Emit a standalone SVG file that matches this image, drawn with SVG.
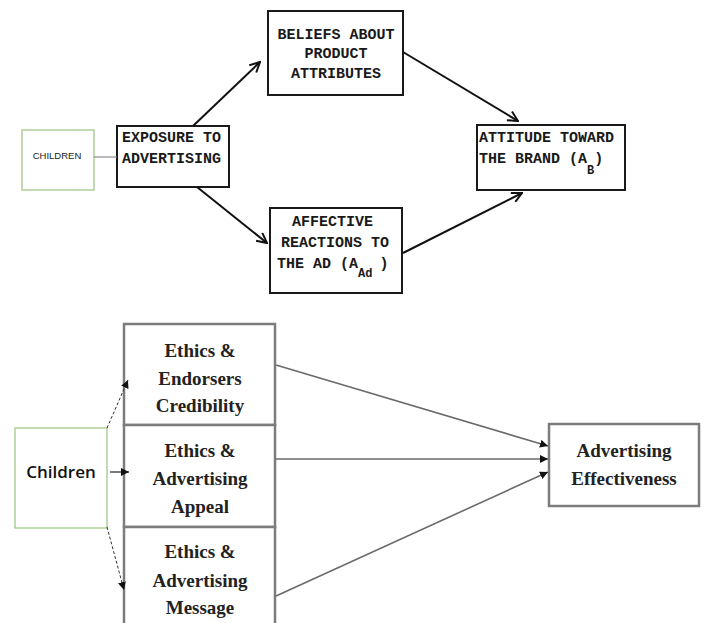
<svg xmlns="http://www.w3.org/2000/svg" width="706" height="623" viewBox="0 0 706 623">
<defs>
<style>
.tw{font-family:"Liberation Mono","Courier New",monospace;font-size:15px;font-weight:bold;fill:#1a1a1a}
.sub{font-size:12px}
.tbox{fill:#fff;stroke:#1a1a1a;stroke-width:2}
.green{fill:#fff;stroke:#9cc47c;stroke-width:1.2}
.gbox{fill:#fff;stroke:#7c7c7c;stroke-width:2.5}
.tr{font-family:"Liberation Serif","Times New Roman",serif;font-weight:bold;font-size:19px;fill:#222;text-anchor:middle}
.tlink{fill:none;stroke:#111;stroke-width:2}
.blink{fill:none;stroke:#6a6a6a;stroke-width:1.6}
.dlink{fill:none;stroke:#333;stroke-width:1;stroke-dasharray:3 2}
.solid{fill:none;stroke:#222;stroke-width:1.2}
</style>
<marker id="openV" viewBox="0 0 12 12" refX="11" refY="6" markerWidth="12" markerHeight="12" markerUnits="userSpaceOnUse" orient="auto">
<path d="M1,1 L11,6 L1,11" fill="none" stroke="#111" stroke-width="2"/>
</marker>
<marker id="tri" viewBox="0 0 10 10" refX="10" refY="5" markerWidth="8" markerHeight="8" markerUnits="userSpaceOnUse" orient="auto">
<path d="M0,0 L10,5 L0,10 z" fill="#111"/>
</marker>
</defs>
<rect width="706" height="623" fill="#fff"/>

<g id="children-top">
<rect class="green" x="22" y="130" width="72" height="60"/>
<text x="57" y="159" font-family="Liberation Sans, Arial, sans-serif" font-size="9.5" text-anchor="middle" fill="#222">CHILDREN</text>
</g>

<g id="exposure">
<rect class="tbox" x="117" y="126" width="112" height="61"/>
<text class="tw" x="122" y="142">EXPOSURE TO</text>
<text class="tw" x="122" y="163">ADVERTISING</text>
</g>

<g id="beliefs">
<rect class="tbox" x="268" y="11" width="135" height="84"/>
<text class="tw" x="336" y="39" text-anchor="middle">BELIEFS ABOUT</text>
<text class="tw" x="336" y="58" text-anchor="middle">PRODUCT</text>
<text class="tw" x="336" y="78" text-anchor="middle">ATTRIBUTES</text>
</g>

<g id="affective">
<rect class="tbox" x="270" y="208" width="132" height="85"/>
<text class="tw" x="292" y="226">AFFECTIVE</text>
<text class="tw" x="281" y="247">REACTIONS TO</text>
<text class="tw" x="277" y="268">THE AD (A<tspan class="sub" dy="9">Ad</tspan><tspan dy="-9" dx="7">)</tspan></text>
</g>

<g id="attitude">
<rect class="tbox" x="477" y="125" width="148" height="65"/>
<text class="tw" x="479" y="142">ATTITUDE TOWARD</text>
<text class="tw" x="479" y="163">THE BRAND (A<tspan class="sub" dy="11">B</tspan><tspan dy="-11">)</tspan></text>
</g>

<g id="children-bottom">
<rect class="green" x="15" y="428" width="92" height="100"/>
<text x="61" y="478" font-family="Open Sans, Liberation Sans, sans-serif" font-size="17" font-weight="600" text-anchor="middle" fill="#111">Children</text>
</g>

<g id="endorsers">
<rect class="gbox" x="124" y="324" width="151" height="101"/>
<text class="tr" x="200" y="357">Ethics &amp;</text>
<text class="tr" x="200" y="385">Endorsers</text>
<text class="tr" x="200" y="412">Credibility</text>
</g>

<g id="appeal">
<rect class="gbox" x="124" y="425" width="151" height="102"/>
<text class="tr" x="200" y="457">Ethics &amp;</text>
<text class="tr" x="200" y="485">Advertising</text>
<text class="tr" x="200" y="513">Appeal</text>
</g>

<g id="message">
<rect class="gbox" x="124" y="527" width="151" height="110"/>
<text class="tr" x="200" y="558">Ethics &amp;</text>
<text class="tr" x="200" y="587">Advertising</text>
<text class="tr" x="200" y="614">Message</text>
</g>

<g id="effectiveness">
<rect class="gbox" x="549" y="424" width="150" height="82"/>
<text class="tr" x="624" y="457">Advertising</text>
<text class="tr" x="624" y="485">Effectiveness</text>
</g>

<g id="connectors">
<line x1="94" y1="157" x2="117" y2="157" stroke="#777" stroke-width="1"/>
<path class="tlink" d="M193,126 L260,62" marker-end="url(#openV)"/>
<path class="tlink" d="M197,187 L267,243" marker-end="url(#openV)"/>
<path class="tlink" d="M403,52 L518,121" marker-end="url(#openV)"/>
<path class="tlink" d="M403,253 L522,193" marker-end="url(#openV)"/>
<path class="dlink" d="M107,428 L128,380" marker-end="url(#tri)"/>
<path class="solid" d="M110,472 L129,472" marker-end="url(#tri)"/>
<path class="dlink" d="M107,527 L124,590" marker-end="url(#tri)"/>
<path class="blink" d="M276,365 L548,446" marker-end="url(#tri)"/>
<path class="blink" d="M276,459 L548,459" marker-end="url(#tri)"/>
<path class="blink" d="M276,596 L548,472" marker-end="url(#tri)"/>
</g>
</svg>
